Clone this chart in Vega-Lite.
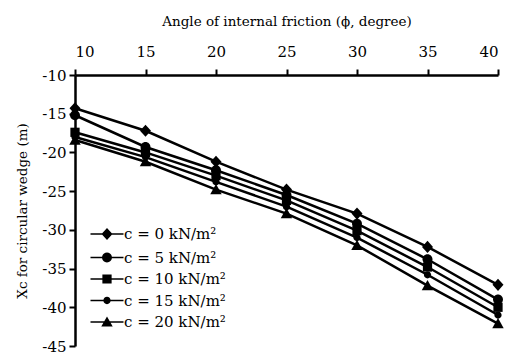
{
  "$schema": "https://vega.github.io/schema/vega-lite/v6.json",
  "width": 423,
  "height": 271,
  "autosize": "none",
  "padding": {"left": 75, "top": 75, "right": 15, "bottom": 12},
  "config": {
    "view": {"stroke": null},
    "font": "DejaVu Serif",
    "axis": {"labelFont": "DejaVu Serif", "titleFont": "DejaVu Serif", "labelColor": "black", "titleColor": "black", "domainColor": "black", "tickColor": "black", "domainWidth": 2.5, "tickWidth": 2, "tickSize": 6, "grid": false, "labelFontSize": 15, "titleFontSize": 13.5, "titleFontWeight": "normal"}
  },
  "data": {"values": [
    {"phi": 10, "s": "c = 0 kN/m²", "xc": -14.3},
    {"phi": 15, "s": "c = 0 kN/m²", "xc": -17.2},
    {"phi": 20, "s": "c = 0 kN/m²", "xc": -21.2},
    {"phi": 25, "s": "c = 0 kN/m²", "xc": -24.8},
    {"phi": 30, "s": "c = 0 kN/m²", "xc": -27.9},
    {"phi": 35, "s": "c = 0 kN/m²", "xc": -32.2},
    {"phi": 40, "s": "c = 0 kN/m²", "xc": -37.1},
    {"phi": 10, "s": "c = 5 kN/m²", "xc": -15.2},
    {"phi": 15, "s": "c = 5 kN/m²", "xc": -19.3},
    {"phi": 20, "s": "c = 5 kN/m²", "xc": -22.3},
    {"phi": 25, "s": "c = 5 kN/m²", "xc": -25.5},
    {"phi": 30, "s": "c = 5 kN/m²", "xc": -29.2},
    {"phi": 35, "s": "c = 5 kN/m²", "xc": -33.8},
    {"phi": 40, "s": "c = 5 kN/m²", "xc": -39.0},
    {"phi": 10, "s": "c = 10 kN/m²", "xc": -17.4},
    {"phi": 15, "s": "c = 10 kN/m²", "xc": -20.0},
    {"phi": 20, "s": "c = 10 kN/m²", "xc": -23.0},
    {"phi": 25, "s": "c = 10 kN/m²", "xc": -26.2},
    {"phi": 30, "s": "c = 10 kN/m²", "xc": -30.1},
    {"phi": 35, "s": "c = 10 kN/m²", "xc": -34.8},
    {"phi": 40, "s": "c = 10 kN/m²", "xc": -40.0},
    {"phi": 10, "s": "c = 15 kN/m²", "xc": -18.0},
    {"phi": 15, "s": "c = 15 kN/m²", "xc": -20.6},
    {"phi": 20, "s": "c = 15 kN/m²", "xc": -23.8},
    {"phi": 25, "s": "c = 15 kN/m²", "xc": -27.0},
    {"phi": 30, "s": "c = 15 kN/m²", "xc": -31.0},
    {"phi": 35, "s": "c = 15 kN/m²", "xc": -35.8},
    {"phi": 40, "s": "c = 15 kN/m²", "xc": -41.0},
    {"phi": 10, "s": "c = 20 kN/m²", "xc": -18.4},
    {"phi": 15, "s": "c = 20 kN/m²", "xc": -21.2},
    {"phi": 20, "s": "c = 20 kN/m²", "xc": -24.8},
    {"phi": 25, "s": "c = 20 kN/m²", "xc": -27.9},
    {"phi": 30, "s": "c = 20 kN/m²", "xc": -32.0},
    {"phi": 35, "s": "c = 20 kN/m²", "xc": -37.2},
    {"phi": 40, "s": "c = 20 kN/m²", "xc": -42.1}
  ]},
  "encoding": {
    "x": {"field": "phi", "type": "quantitative", "scale": {"domain": [10, 40], "nice": false, "zero": false},
      "axis": {"orient": "top", "values": [10, 15, 20, 25, 30, 35, 40], "title": "Angle of internal friction (ϕ, degree)", "titlePadding": 16, "labelPadding": 10}},
    "y": {"field": "xc", "type": "quantitative", "scale": {"domain": [-45, -10], "nice": false, "zero": false},
      "axis": {"values": [-10, -15, -20, -25, -30, -35, -40, -45], "labelExpr": "'' + datum.value", "title": "Xc for circular wedge (m)", "titlePadding": 12, "labelPadding": 3}}
  },
  "layer": [
    {
      "mark": {"type": "line", "color": "black", "strokeWidth": 2.5},
      "encoding": {"detail": {"field": "s"}}
    },
    {
      "mark": {"type": "point", "filled": true, "color": "black", "opacity": 1, "size": 484},
      "encoding": {
        "shape": {"field": "s", "type": "nominal", "legend": null,
          "scale": {"domain": ["c = 0 kN/m²", "c = 5 kN/m²", "c = 10 kN/m²", "c = 15 kN/m²", "c = 20 kN/m²"],
            "range": [
              "M0,-0.55L0.5,0L0,0.55L-0.5,0Z",
              "M0.45,0C0.45,0.2485,0.2485,0.45,0,0.45C-0.2485,0.45,-0.45,0.2485,-0.45,0C-0.45,-0.2485,-0.2485,-0.45,0,-0.45C0.2485,-0.45,0.45,-0.2485,0.45,0Z",
              "M-0.42,-0.42H0.42V0.42H-0.42Z",
              "M0.33,0C0.33,0.1823,0.1823,0.33,0,0.33C-0.1823,0.33,-0.33,0.1823,-0.33,0C-0.33,-0.1823,-0.1823,-0.33,0,-0.33C0.1823,-0.33,0.33,-0.1823,0.33,0Z",
              "M0,-0.5L0.52,0.42H-0.52Z"
            ]}}
      }
    },
    {
      "mark": {"type": "point", "filled": true, "color": "black", "opacity": 0, "size": 484},
      "encoding": {
        "shape": {"field": "s", "type": "nominal",
          "scale": {"domain": ["c = 0 kN/m²", "c = 5 kN/m²", "c = 10 kN/m²", "c = 15 kN/m²", "c = 20 kN/m²"],
            "range": [
              "M-1.5,-0.06H1.5V0.06H-1.5ZM0,-0.55L0.5,0L0,0.55L-0.5,0Z",
              "M-1.5,-0.06H1.5V0.06H-1.5ZM0.45,0C0.45,0.2485,0.2485,0.45,0,0.45C-0.2485,0.45,-0.45,0.2485,-0.45,0C-0.45,-0.2485,-0.2485,-0.45,0,-0.45C0.2485,-0.45,0.45,-0.2485,0.45,0Z",
              "M-1.5,-0.06H1.5V0.06H-1.5ZM-0.42,-0.42H0.42V0.42H-0.42Z",
              "M-1.5,-0.06H1.5V0.06H-1.5ZM0.33,0C0.33,0.1823,0.1823,0.33,0,0.33C-0.1823,0.33,-0.33,0.1823,-0.33,0C-0.33,-0.1823,-0.1823,-0.33,0,-0.33C0.1823,-0.33,0.33,-0.1823,0.33,0Z",
              "M-1.5,-0.06H1.5V0.06H-1.5ZM0,-0.5L0.52,0.42H-0.52Z"
            ]},
          "legend": {"title": null, "orient": "none", "legendX": 20, "legendY": 147, "symbolSize": 484, "labelFont": "DejaVu Serif", "labelFontSize": 15, "labelColor": "black", "rowPadding": 1.5, "labelOffset": 5,
            "encode": {"symbols": {"update": {"fill": {"value": "black"}, "stroke": {"value": "transparent"}, "opacity": {"value": 1}, "fillOpacity": {"value": 1}}}}}
        }
      }
    }
  ],
  "resolve": {"scale": {"shape": "independent"}, "legend": {"shape": "independent"}}
}
